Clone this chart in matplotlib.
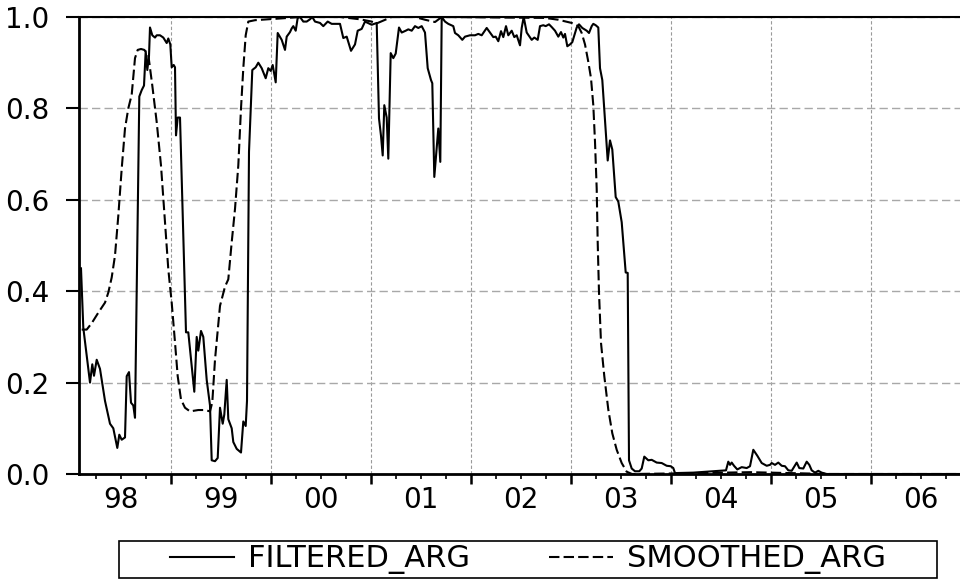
import numpy as np
import matplotlib.pyplot as plt
from matplotlib.patches import Rectangle

# filtered regime probability (decimal years)
filt_t = [1998.104, 1998.127, 1998.194, 1998.217, 1998.234, 1998.261, 1998.294, 1998.344, 1998.394, 1998.427,
          1998.467, 1998.487, 1998.511, 1998.544, 1998.561, 1998.584, 1998.604, 1998.627, 1998.644, 1998.687,
          1998.711, 1998.734, 1998.751, 1998.767, 1998.784, 1998.794, 1998.817, 1998.844, 1998.861, 1998.894,
          1998.927, 1998.961, 1998.977, 1998.997, 1999.011, 1999.031, 1999.044, 1999.054, 1999.071, 1999.094,
          1999.154, 1999.177, 1999.237, 1999.261, 1999.277, 1999.304, 1999.327, 1999.361, 1999.394, 1999.411,
          1999.444, 1999.471, 1999.494, 1999.521, 1999.537, 1999.561, 1999.577, 1999.611, 1999.627, 1999.661,
          1999.704, 1999.727, 1999.751, 1999.764, 1999.784, 1999.817, 1999.851, 1999.877, 1999.911, 1999.951,
          1999.977, 2000.001, 2000.021, 2000.051, 2000.071, 2000.111, 2000.144, 2000.161, 2000.194, 2000.211,
          2000.227, 2000.251, 2000.271, 2000.294, 2000.327, 2000.361, 2000.394, 2000.417, 2000.444, 2000.494,
          2000.527, 2000.571, 2000.611, 2000.694, 2000.727, 2000.761, 2000.804, 2000.844, 2000.871, 2000.911,
          2000.944, 2001.011, 2001.061, 2001.084, 2001.104, 2001.121, 2001.137, 2001.161, 2001.177, 2001.201,
          2001.227, 2001.251, 2001.284, 2001.311, 2001.351, 2001.377, 2001.411, 2001.444, 2001.477, 2001.511,
          2001.544, 2001.571, 2001.604, 2001.617, 2001.637, 2001.677, 2001.697, 2001.711, 2001.744, 2001.777,
          2001.827, 2001.844, 2001.877, 2001.917, 2001.944, 2001.994, 2002.044, 2002.077, 2002.111, 2002.161,
          2002.194, 2002.227, 2002.251, 2002.277, 2002.304, 2002.327, 2002.354, 2002.377, 2002.411, 2002.437,
          2002.461, 2002.494, 2002.511, 2002.531, 2002.561, 2002.577, 2002.611, 2002.637, 2002.671, 2002.694,
          2002.727, 2002.751, 2002.784, 2002.811, 2002.844, 2002.877, 2002.904, 2002.927, 2002.944, 2002.967,
          2002.994, 2003.017, 2003.044, 2003.061, 2003.084, 2003.117, 2003.161, 2003.184, 2003.211, 2003.227,
          2003.251, 2003.277, 2003.294, 2003.317, 2003.371, 2003.394, 2003.417, 2003.451, 2003.477, 2003.511,
          2003.551, 2003.571, 2003.584, 2003.611, 2003.644, 2003.687, 2003.711, 2003.737, 2003.777, 2003.811,
          2003.861, 2003.911, 2003.961, 2004.001, 2004.027, 2004.044, 2004.227, 2004.361, 2004.494, 2004.554,
          2004.577, 2004.594, 2004.611, 2004.634, 2004.667, 2004.711, 2004.761, 2004.794, 2004.827, 2004.867,
          2004.911, 2004.961, 2004.994, 2005.011, 2005.044, 2005.077, 2005.111, 2005.144, 2005.177, 2005.211,
          2005.261, 2005.287, 2005.327, 2005.361, 2005.387, 2005.411, 2005.444, 2005.477, 2005.511, 2005.561,
          2006.894]
filt_v = [0.45, 0.32, 0.20, 0.24, 0.215, 0.25, 0.23, 0.16, 0.11, 0.10,
          0.057, 0.086, 0.075, 0.08, 0.214, 0.223, 0.156, 0.15, 0.123, 0.826,
          0.84, 0.85, 0.925, 0.884, 0.915, 0.977, 0.96, 0.955, 0.96, 0.96,
          0.955, 0.943, 0.953, 0.94, 0.89, 0.895, 0.89, 0.741, 0.78, 0.78,
          0.31, 0.31, 0.18, 0.30, 0.27, 0.313, 0.30, 0.206, 0.15, 0.03,
          0.028, 0.035, 0.145, 0.11, 0.13, 0.206, 0.12, 0.10, 0.07, 0.055,
          0.047, 0.115, 0.105, 0.16, 0.705, 0.884, 0.89, 0.90, 0.888, 0.866,
          0.888, 0.882, 0.895, 0.857, 0.965, 0.95, 0.928, 0.957, 0.967, 0.975,
          0.98, 0.97, 0.998, 1.0, 0.99, 0.99, 0.995, 1.0, 0.99, 0.987,
          0.98, 0.99, 0.985, 0.985, 0.954, 0.957, 0.926, 0.94, 0.97, 0.974,
          0.99, 0.983, 0.987, 0.778, 0.74, 0.697, 0.807, 0.78, 0.69, 0.921,
          0.91, 0.92, 0.977, 0.966, 0.97, 0.973, 0.97, 0.98, 0.976, 0.98,
          0.966, 0.888, 0.862, 0.855, 0.65, 0.756, 0.683, 1.0, 0.99, 0.985,
          0.98, 0.965, 0.96, 0.95, 0.957, 0.96, 0.96, 0.963, 0.96, 0.976,
          0.966, 0.956, 0.957, 0.947, 0.969, 0.956, 0.98, 0.96, 0.97, 0.956,
          0.96, 0.938, 0.976, 1.0, 0.966, 0.961, 0.95, 0.955, 0.95, 0.98,
          0.982, 0.98, 0.984, 0.978, 0.97, 0.957, 0.967, 0.955, 0.963, 0.936,
          0.94, 0.945, 0.965, 0.977, 0.984, 0.976, 0.97, 0.965, 0.98, 0.985,
          0.982, 0.977, 0.888, 0.862, 0.686, 0.73, 0.71, 0.606, 0.596, 0.551,
          0.441, 0.44, 0.03, 0.012, 0.006, 0.006, 0.012, 0.038, 0.03, 0.031,
          0.025, 0.024, 0.018, 0.017, 0.013, 0.002, 0.003, 0.005, 0.007, 0.008,
          0.027, 0.02, 0.025, 0.018, 0.01, 0.015, 0.013, 0.017, 0.053, 0.04,
          0.024, 0.018, 0.02, 0.024, 0.02, 0.025, 0.018, 0.017, 0.008, 0.007,
          0.025, 0.013, 0.012, 0.027, 0.02, 0.008, 0.003, 0.007, 0.003, 0.0,
          0.0]

# smoothed regime probability
smooth_t = [1998.111, 1998.161, 1998.211, 1998.277, 1998.344, 1998.377, 1998.411, 1998.444, 1998.477, 1998.511,
            1998.544, 1998.577, 1998.611, 1998.644, 1998.671, 1998.704, 1998.737, 1998.777, 1998.817, 1998.861,
            1998.904, 1998.944, 1998.977, 1999.011, 1999.044, 1999.071, 1999.104, 1999.144, 1999.194, 1999.277,
            1999.344, 1999.394, 1999.417, 1999.444, 1999.494, 1999.544, 1999.577, 1999.611, 1999.644, 1999.677,
            1999.704, 1999.727, 1999.751, 1999.777, 1999.844, 1999.974, 2000.111, 2000.294, 2000.694, 2000.894,
            2001.011, 2001.061, 2001.211, 2001.444, 2001.544, 2001.644, 2001.711, 2002.744, 2002.877, 2003.011,
            2003.077, 2003.111, 2003.144, 2003.177, 2003.204, 2003.227, 2003.244, 2003.261, 2003.271, 2003.284,
            2003.304, 2003.337, 2003.377, 2003.417, 2003.461, 2003.511, 2003.561, 2003.614, 2004.294, 2004.794,
            2005.194, 2005.594, 2006.894]
smooth_v = [0.316, 0.316, 0.33, 0.353, 0.375, 0.397, 0.43, 0.478, 0.565, 0.668,
            0.756, 0.80, 0.83, 0.91, 0.928, 0.93, 0.928, 0.917, 0.85, 0.77,
            0.675, 0.551, 0.448, 0.375, 0.288, 0.214, 0.163, 0.145, 0.137, 0.14,
            0.14, 0.137, 0.157, 0.25, 0.368, 0.41, 0.426, 0.507, 0.58, 0.675,
            0.80, 0.888, 0.96, 0.99, 0.993, 0.995, 0.997, 1.0, 1.0, 0.995,
            0.99, 0.986, 1.0, 1.0, 0.994, 0.989, 1.0, 0.998, 0.994, 0.987,
            0.98, 0.965, 0.94, 0.902, 0.866, 0.807, 0.727, 0.624, 0.507, 0.397,
            0.287, 0.214, 0.141, 0.089, 0.053, 0.024, 0.005, 0.0, 0.002, 0.004,
            0.002, 0.0, 0.0]

year_bounds = list(range(1999, 2007))
year_labels = ['98', '99', '00', '01', '02', '03', '04', '05', '06']
y_ticks = [0.0, 0.2, 0.4, 0.6, 0.8, 1.0]

plt.rcParams['font.family'] = ['DejaVu Sans']

fig = plt.figure(figsize=(9.6, 5.81), dpi=100)
ax = fig.add_axes([79/960, 1 - 474/581, 1 - 79/960, (474 - 17)/581])

ax.plot(filt_t, filt_v, color='black', lw=1.5, label='FILTERED_ARG')
ax.plot(smooth_t, smooth_v, color='black', lw=1.5, dashes=(5, 2), label='SMOOTHED_ARG')

ax.set_xlim(1998.084, 2006.894)
ax.set_ylim(0, 1.0)

# year boundaries carry the long ticks and the grid, labels sit mid-year
minor_pos = []
minor_lab = []
for i, yr in enumerate(range(1998, 2007)):
    for q, lab in [(0.25, ''), (0.5, year_labels[i]), (0.75, '')]:
        minor_pos.append(yr + q)
        minor_lab.append(lab)
ax.set_xticks(year_bounds, labels=['']*len(year_bounds))
ax.set_xticks(minor_pos, labels=minor_lab, minor=True)
ax.set_yticks(y_ticks, labels=['%.1f' % v for v in y_ticks])

ax.tick_params(axis='y', direction='out', length=9.4, width=1.5, pad=12, labelsize=20)
ax.tick_params(axis='x', which='major', direction='out', length=7.2, width=1.8)
ax.tick_params(axis='x', which='minor', direction='out', length=3.6, width=1.2, pad=5, labelsize=20)

ax.grid(axis='x', which='major', color='#9a9a9a', lw=0.8, ls=(0, (3, 2)))
ax.grid(axis='y', which='major', color='#a8a8a8', lw=1.0, ls=(0, (6, 3)))

ax.spines['right'].set_visible(False)
ax.spines['left'].set_linewidth(2)
ax.spines['bottom'].set_linewidth(2)
ax.spines['top'].set_linewidth(1.5)

# legend entries centred in a plain box below the axes
handles, labels = ax.get_legend_handles_labels()
fig.legend(handles, labels, loc='center', ncol=2,
           bbox_to_anchor=(528/960, 1 - 559.5/581),
           fontsize=22, frameon=False, handlelength=2.1, handletextpad=0.45,
           columnspacing=2.6, borderpad=0.1)
fig.add_artist(Rectangle((119/960, 1 - 578/581), 818/960, 37/581, transform=fig.transFigure,
                         fill=False, edgecolor='black', lw=1.2))

fig.savefig('out.png', dpi=100)
